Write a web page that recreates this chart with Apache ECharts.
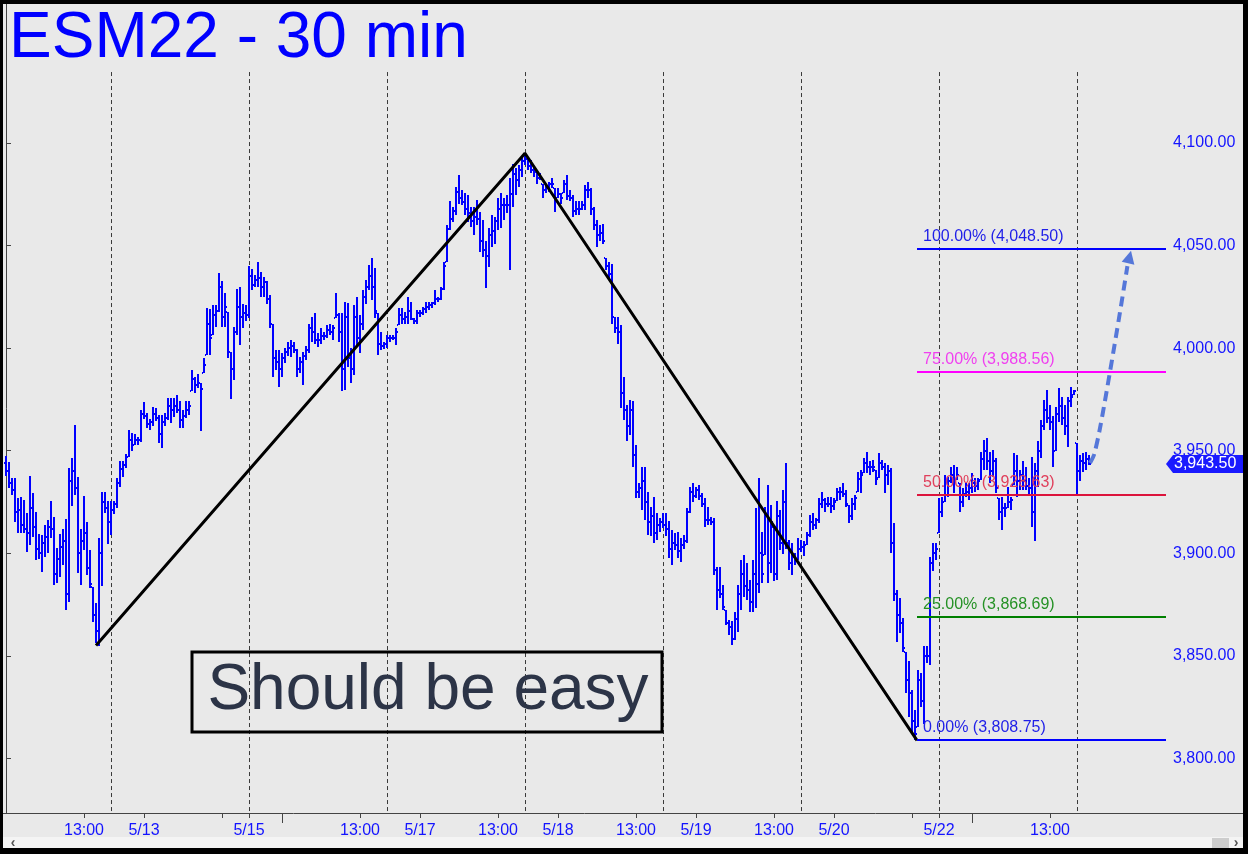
<!DOCTYPE html>
<html>
<head>
<meta charset="utf-8">
<script src="https://cdn.jsdelivr.net/npm/echarts@6/dist/echarts.min.js"></script>
<style>
html,body{margin:0;padding:0;background:#e9e9e9;}
#chart{width:1248px;height:854px;}
</style>
</head>
<body>
<div id="chart"></div>
<script>
// ---------- DATA ----------
const highs = [
3947.25,3944.25,3936.5,3936.5,3927,3927.5,3926,3919.5,3937.5,3929.5,
3920,3909.5,3909,3913.75,3916.25,3925.5,3917.75,3902.5,3909.5,3911.75,
3916.75,3941.5,3946.5,3962.5,3937.25,3911.75,3928,3915.25,3901.5,3883.5,
3875.75,3907.5,3930,3930,3925.5,3925.5,3925.25,3936.5,3944.75,3944.75,
3948.5,3960,3958.5,3958,3956.75,3969.75,3973.75,3968.25,3965.5,3971.5,
3970.75,3967.5,3967.5,3968.5,3975.5,3975.5,3975.5,3977.25,3974,3969.75,
3974,3974,3989.25,3986,3987.5,3983,3995,4019.5,4019,4021,
4021,4036.5,4032.5,4026.75,4017.75,3998.25,4010.5,4028.75,4030,4021.75,
4021,4040,4038.5,4035.5,4042,4037.25,4034.75,4032.5,4026,4011.75,
3999,3999,3997.5,4000,4003,4004,4003,3999.5,3995.75,3998.25,
4001,4012,4015.25,4017,4007.25,4009.75,4008,4011.25,4012,4011.25,
4026.75,4017,4017,4022.5,4022,4000,4021,4025,4016,4028.25,
4033.25,4040.5,4043.75,4039,4017,4008,4003,4006.5,4006.5,4006.5,
4009.75,4019.5,4019.5,4017.75,4025,4022.5,4014.5,4018.5,4018.5,4020.25,
4022.5,4022.5,4022.5,4028.25,4025,4030,4042,4060,4071.5,4069,
4078.75,4084.5,4077,4075.5,4074.5,4069,4069,4072.25,4066.5,4062.5,
4052,4058.5,4065,4064,4073,4075.5,4073,4074.5,4082.75,4090,
4087.75,4089.25,4093.25,4095,4092.5,4091.75,4088.5,4086,4085.25,4080.25,
4079.5,4081,4082.75,4078,4078,4075.5,4082,4084.5,4077,4074.5,
4071.5,4071.5,4071.5,4079.5,4081,4078,4069,4062.5,4060,4060.75,
4043.75,4042,4041.25,4015.25,4015.25,4011.25,3986,3972.25,3974.75,3974,
3952.75,3934,3942.25,3942.25,3930,3922.75,3927.5,3919.5,3917,3919.5,
3919.5,3915.5,3911.5,3909.75,3910.5,3907.25,3908.75,3922,3932.5,3934,
3932.5,3933.25,3929.25,3926.75,3922.75,3917.75,3917,3893.5,3893.5,3884.5,
3872.25,3867.5,3866.75,3871.5,3884.5,3896.75,3899.25,3895.25,3887,3896.75,
3922,3936.5,3910.5,3922.75,3933.25,3923.5,3913,3925.25,3921,3930.75,
3944,3906.5,3905,3900,3907.25,3906.5,3905.75,3910.5,3918.5,3919.5,
3917,3926.75,3930,3926.75,3927.5,3927.5,3926.75,3931.75,3932.5,3934,
3930.75,3923.5,3926.75,3928.5,3939.75,3940.5,3946.25,3949.5,3944.75,3945.5,
3940.5,3948.75,3945.5,3944,3943,3941.5,3914.75,3882,3878,3868.25,
3852,3847.25,3833.25,3823.5,3843,3841.5,3855,3855,3898.25,3905,
3905,3926.75,3927.5,3938,3937.25,3942.25,3943,3942.25,3934,3931.75,
3934,3934,3939,3936.5,3936.5,3949.5,3955.25,3956,3949.5,3950.25,
3946.25,3926.75,3927.5,3924.25,3932.5,3927.5,3948.75,3948,3940.5,3944.75,
3942.25,3936.5,3947,3944,3954.75,3965,3974.75,3979.5,3972.25,3966.75,
3971.5,3980.5,3976.25,3972.25,3976.25,3981.25,3979.5,3953.75,3948,3948.75,
3949.5,3948
];
const lows = [
3937.5,3932,3928.5,3915,3910,3910,3910,3900.5,3904,3908,
3896.75,3897.25,3891,3898.25,3900,3907.5,3884.5,3885.5,3888.5,3894.25,
3872.25,3876.25,3923,3928.5,3890.5,3884.5,3901.5,3889.5,3883,3866.5,
3856.25,3854.75,3884,3919.5,3904.5,3909,3919.25,3922,3932.25,3937,
3941.5,3946.75,3950,3952.75,3952.75,3954.25,3965.25,3961.25,3960,3962,
3964.25,3953.75,3951.25,3962,3965,3963.5,3966.5,3968.5,3961,3961,
3966,3967.5,3979,3978,3980.5,3959.5,3987.75,3996.5,3996.5,4006.5,
4010.5,4017.75,4010.5,4010.5,3995,3975,3984.5,4006.5,4001.5,4009.75,
4013,4014.5,4028.25,4030,4030,4025,4025,4021.75,4009.75,3986,
3989.25,3981.25,3986,3992.5,3996.25,3995.75,3997.5,3986,3987.75,3982,
3994.25,3997.5,4003,4002.25,4000.75,4002.25,4004,4004.75,4006.5,4004,
4014.5,4003,3979.25,3979.5,3991,3983,3987,4000.75,3997.5,4008.75,
4021.75,4028.25,4023.5,4014.5,3996.5,3999,3999.5,4000,4003,4004,
4001.5,4011.25,4012,4012,4012,4013.75,4012,4012,4015.25,4016,
4017,4018.5,4019.5,4021,4022.5,4023.5,4028.5,4042,4057.5,4061.5,
4065,4070.5,4069.75,4065,4061.5,4059.25,4055,4060,4047,4044.5,
4029.25,4039.75,4049.5,4051,4057.5,4058.5,4062.5,4065.75,4038,4069,
4074.5,4078.75,4083.5,4089.25,4086.75,4085.25,4083.5,4080.25,4082,4073,
4075.5,4076.25,4078,4066.5,4073,4070.5,4075.5,4072.25,4071.5,4064,
4065,4065,4067.25,4067.25,4073,4065,4057.5,4049.5,4052,4051,
4038,4033.25,4012,4007.25,4002.25,3970.75,3965,3954.5,3957.75,3942.25,
3926.75,3926.75,3921,3916.25,3909,3908.25,3904.75,3906.5,3910.5,3912.25,
3908.25,3897.5,3894.5,3901.5,3897.5,3895.75,3902.25,3905,3919.5,3925,
3926.75,3926,3922.75,3913,3913.75,3913.75,3889.25,3872.25,3878,3872.25,
3865,3860.25,3855.25,3857.75,3861.75,3872.25,3878.75,3877.25,3871.5,3871.5,
3873.25,3880.5,3885.5,3899.25,3885.5,3890.25,3886.25,3887,3901.5,3899.75,
3902.25,3891.75,3889.5,3894.25,3896.75,3900.75,3898.5,3904,3908,3911.25,
3912,3914.5,3922,3920.25,3922.75,3919.5,3921,3925.25,3926,3927.5,
3922.75,3914.5,3916.25,3921,3930,3929.25,3939,3939,3938.25,3939.75,
3933.25,3936.5,3940.5,3929.25,3933.25,3900,3876.5,3856.75,3861,3852,
3831.75,3820.25,3812.25,3808.75,3815.5,3825.25,3816.75,3846.25,3845.5,3891.25,
3896.75,3909.75,3917.75,3925,3927.5,3934,3929.25,3935.75,3920.25,3922.75,
3927.5,3926,3929.25,3930,3930.75,3935.75,3940.5,3940.5,3934,3937.25,
3929.25,3916.25,3911.25,3917.75,3922,3921,3933.25,3927.5,3930.75,3930.75,
3930.75,3928.5,3912.75,3905.75,3932.5,3946.25,3960.25,3963.25,3960.25,3942.25,
3949.75,3964,3962.5,3957.75,3952,3971.5,3977.25,3928.5,3935,3939.75,
3940.5,3943
];
const closes = [
3940,3934,3931,3920,3921,3914,3912,3910,3922,3913,
3902,3900,3905,3908,3913,3912,3890,3897,3903,3906,
3880,3935,3940,3932,3900,3906,3910,3893,3885,3870,
3862,3900,3925,3922,3915,3921,3924,3934,3941,3943,
3947,3955,3953,3955,3955,3968,3967,3963,3964,3968,
3966,3958,3964,3966,3972,3970,3972,3970,3965,3967,
3970,3972,3985,3982,3983,3980,3992,4012,4005,4016,
4018,4030,4015,4020,3998,3990,4008,4020,4015,4017,
4016,4035,4031,4033,4034,4030,4032,4024,4012,3995,
3993,3990,3995,3998,4000,4001,3999,3990,3993,3996,
3999,4010,4008,4004,4004,4006,4006,4009,4008,4010,
4016,4008,3990,4015,3995,3990,4015,4005,4012,4025,
4030,4035,4030,4018,4002,4001,4002,4005,4005,4005,
4008,4016,4014,4015,4018,4014,4013,4017,4017,4019,
4020,4021,4022,4024,4024,4029,4040,4058,4063,4067,
4076,4073,4071,4068,4066,4062,4064,4063,4052,4048,
4045,4055,4057,4062,4068,4070,4070,4070,4075,4085,
4082,4087,4091,4092,4089,4087,4086,4083,4083,4077,
4078,4080,4080,4072,4075,4073,4080,4074,4073,4067,
4068,4068,4070,4077,4077,4068,4060,4055,4056,4052,
4040,4036,4015,4010,4008,3978,3970,3962,3970,3948,
3930,3932,3935,3925,3915,3918,3910,3914,3915,3914,
3912,3902,3905,3904,3901,3904,3906,3920,3930,3928,
3931,3928,3924,3916,3916,3915,3892,3882,3880,3874,
3866,3864,3858,3868,3880,3890,3884,3882,3876,3890,
3885,3900,3890,3918,3895,3915,3890,3918,3905,3925,
3905,3895,3898,3897,3902,3903,3904,3909,3915,3914,
3916,3924,3926,3924,3924,3923,3925,3930,3930,3929,
3924,3918,3924,3927,3936,3938,3944,3942,3942,3942,
3936,3944,3942,3938,3940,3905,3880,3870,3866,3854,
3838,3832,3818,3812,3838,3828,3850,3850,3895,3900,
3902,3920,3925,3935,3935,3938,3935,3938,3925,3929,
3930,3932,3934,3933,3935,3946,3950,3945,3940,3945,
3932,3920,3922,3922,3925,3926,3940,3935,3938,3935,
3933,3932,3920,3940,3950,3962,3970,3966,3964,3950,
3968,3972,3966,3962,3974,3976,3979,3940,3945,3944,
3946,3943.5
];
const firstOpen = 3944;
const lastPrice = 3943.50;

// session (day) separators, bar indices
const sessionStarts = [35, 81, 127, 173, 219, 265, 311, 357];
const separatorTopValue = 4134.6;

// time axis labels (bar index -> text)
const xLabelIdx  = [26, 46, 81, 118, 138, 164, 184, 210, 230, 256, 276, 311, 348];
const xLabelText = ['13:00','5/13','5/15','13:00','5/17','13:00','5/18','13:00','5/19','13:00','5/20','5/22','13:00'];
const xExtraTickIdx = [72, 302];
const xLongTickIdx = [92, 322];

// price axis ticks
const yTickValues = [3800, 3850, 3900, 3950, 4000, 4050, 4100];

// swing lines (bar index, price)
const swingPoints = [[30, 3855], [173, 4095], [303.67, 3808.75]];

// fibonacci-style targets
const fibStartIdx = 303.67;
const fibPct    = ['100.00%', '75.00%', '50.00%', '25.00%', '0.00%'];
const fibValues = [4048.50, 3988.56, 3928.63, 3868.69, 3808.75];

// projected path (bar index, price)
const projPath = [[361.33, 3944], [362.67, 3948], [364.67, 3961], [368, 3988.5], [371.33, 4017.5], [373.8, 4040]];
const projTip = [375, 4047.5];

const titleText = 'ESM22 - 30 min';
const noteText = 'Should be easy';

// ---------- STYLE / LAYOUT ----------
const FONT = "'Liberation Sans', Arial, sans-serif";
const BLUE = '#0000ff';
const fibLineColors = ['#0000ff', '#ff00ff', '#dc143c', '#008000', '#0000ff'];
const fibTextColors = ['#1f1fe8', '#f040f0', '#e0405c', '#259125', '#1f1fe8'];
const xMin = -1, xMax = 386.667, yMin = 3773.35, yMax = 4167.77;

function fmtPrice(v) {
  const s = v.toFixed(2);
  const [ip, dp] = s.split('.');
  return ip.replace(/\B(?=(\d{3})+(?!\d))/g, ',') + '.' + dp;
}

const opens = closes.map((c, i) => i === 0 ? firstOpen : closes[i - 1]);
const barData = highs.map((h, i) => [i, opens[i], closes[i], lows[i], h]);
const labelMap = {};
xLabelIdx.forEach((ix, k) => { labelMap[ix] = xLabelText[k]; });

const chart = echarts.init(document.getElementById('chart'), null, {renderer: 'canvas'});

function clamp(v, a, b) { return Math.max(a, Math.min(b, v)); }

const option = {
  animation: false,
  backgroundColor: '#e9e9e9',
  grid: {left: 3, right: 82, top: 4, bottom: 41, containLabel: false},
  xAxis: [{
    type: 'value', min: xMin, max: xMax,
    axisLine: {show: true, lineStyle: {color: '#444', width: 1}},
    axisTick: {show: true, customValues: xLabelIdx.concat(xExtraTickIdx), length: 5, lineStyle: {color: '#444'}},
    axisLabel: {show: true, customValues: xLabelIdx, margin: 10, color: '#1414ff', fontSize: 16, fontFamily: FONT,
      formatter: v => labelMap[Math.round(v)] || ''},
    splitLine: {show: false}
  }, {
    type: 'value', min: xMin, max: xMax, position: 'bottom',
    axisLine: {show: false},
    axisTick: {show: true, customValues: xLongTickIdx, length: 10, lineStyle: {color: '#444'}},
    axisLabel: {show: false},
    splitLine: {show: false}
  }],
  yAxis: {
    type: 'value', position: 'right', min: yMin, max: yMax,
    axisLine: {show: true, lineStyle: {color: '#444', width: 1}},
    axisTick: {show: true, customValues: yTickValues, length: 5, lineStyle: {color: '#444'}},
    axisLabel: {show: true, customValues: yTickValues, margin: 7, color: '#1414ff', fontSize: 16, fontFamily: FONT,
      formatter: v => fmtPrice(v)},
    splitLine: {show: false}
  },
  series: [
    {
      type: 'custom', name: 'separators', z: 1, silent: true,
      data: sessionStarts.map(i => [i]),
      renderItem: (params, api) => {
        const t = api.coord([api.value(0), separatorTopValue]);
        const b = api.coord([api.value(0), yMin]);
        const x = Math.round(t[0]) + 0.5;
        return {type: 'line', shape: {x1: x, y1: t[1], x2: x, y2: b[1]},
          style: {stroke: '#3a3a3a', lineWidth: 1, lineDash: [4, 3]}};
      }
    },
    {
      type: 'custom', name: 'ESM22', z: 2, silent: true, clip: true,
      data: barData,
      encode: {x: 0, y: [1, 2, 3, 4]},
      renderItem: (params, api) => {
        const i = api.value(0), o = api.value(1), c = api.value(2), l = api.value(3), h = api.value(4);
        const pH = api.coord([i, h]);
        const pL = api.coord([i, l]);
        const x = Math.round(pH[0]);
        const yo = Math.round(api.coord([i, clamp(o, l, h)])[1]);
        const yc = Math.round(api.coord([i, clamp(c, l, h)])[1]);
        const yt = Math.round(pH[1]);
        const yb = Math.round(pL[1]);
        return {type: 'group', children: [
          {type: 'rect', shape: {x: x - 1, y: yt, width: 2, height: Math.max(2, yb - yt)}, style: {fill: BLUE}},
          {type: 'rect', shape: {x: x - 2, y: yo - 1, width: 1, height: 2}, style: {fill: BLUE}},
          {type: 'rect', shape: {x: x + 1, y: yc - 1, width: 1, height: 2}, style: {fill: BLUE}}
        ]};
      }
    },
    {
      type: 'line', name: 'swing', z: 3, silent: true,
      data: swingPoints, symbol: 'none',
      lineStyle: {color: '#000', width: 3}
    },
    {
      type: 'custom', name: 'fib', z: 4, silent: true,
      data: fibValues.map((v, k) => [v, k]),
      renderItem: (params, api) => {
        const v = api.value(0), k = api.value(1);
        const p0 = api.coord([fibStartIdx, v]);
        const p1 = api.coord([xMax, v]);
        const y = Math.round(p0[1]);
        return {type: 'group', children: [
          {type: 'line', shape: {x1: p0[0], y1: y, x2: p1[0], y2: y},
            style: {stroke: fibLineColors[k], lineWidth: 2}},
          {type: 'text', x: p0[0] + 6, y: y - 12,
            style: {text: fibPct[k] + ' (' + fmtPrice(v) + ')', fill: fibTextColors[k],
              font: '16px ' + FONT, verticalAlign: 'middle', align: 'left'}}
        ]};
      }
    },
    {
      type: 'line', name: 'projection', z: 5, silent: true, smooth: 0.3,
      data: projPath, symbol: 'none',
      lineStyle: {color: '#5577d9', width: 4, type: [10, 6]}
    },
    {
      type: 'custom', name: 'arrowhead', z: 5, silent: true,
      data: [projTip],
      renderItem: (params, api) => {
        const tip = api.coord([api.value(0), api.value(1)]);
        const prev = api.coord(projPath[projPath.length - 1]);
        let dx = tip[0] - prev[0], dy = tip[1] - prev[1];
        const len = Math.hypot(dx, dy); dx /= len; dy /= len;
        const L = 13, W = 6.5;
        const bx = tip[0] - dx * L, by = tip[1] - dy * L;
        return {type: 'polygon', shape: {points: [
          [tip[0], tip[1]], [bx - dy * W, by + dx * W], [bx + dy * W, by - dx * W]]},
          style: {fill: '#5577d9'}};
      }
    }
  ]
};
chart.setOption(option);

// ---------- annotations / frame ----------
const tagY = Math.round(chart.convertToPixel({yAxisIndex: 0}, lastPrice));
const axisX = 1166;
chart.setOption({
  graphic: [
    {type: 'text', z: 10, x: 9, y: 39,
      style: {text: titleText, font: '64px ' + FONT, fill: BLUE, verticalAlign: 'middle', align: 'left'}},
    {type: 'rect', z: 10, shape: {x: 192, y: 652, width: 470, height: 80},
      style: {fill: 'none', stroke: '#000', lineWidth: 3}},
    {type: 'text', z: 10, x: 428, y: 691,
      style: {text: noteText, font: '64px ' + FONT, fill: '#2c3447', verticalAlign: 'middle', align: 'center'}},
    {type: 'polygon', z: 20, shape: {points: [[axisX, tagY], [axisX + 7, tagY - 9], [1243, tagY - 9], [1243, tagY + 9], [axisX + 7, tagY + 9]]},
      style: {fill: '#1a1aff'}},
    {type: 'text', z: 21, x: 1174, y: tagY,
      style: {text: fmtPrice(lastPrice), font: '16px ' + FONT, fill: '#fff', verticalAlign: 'middle', align: 'left'}},
    {type: 'line', z: 10, shape: {x1: axisX, y1: 813.5, x2: 1243, y2: 813.5}, style: {stroke: '#444', lineWidth: 1}},
    {type: 'rect', z: 10, shape: {x: 3, y: 837, width: 1240, height: 11}, style: {fill: '#f4f4f4'}},
    {type: 'rect', z: 11, shape: {x: 1212, y: 838, width: 17, height: 10}, style: {fill: '#cdcdcd'}},
    {type: 'text', z: 11, x: 13, y: 843, style: {text: '‹', font: 'bold 14px ' + FONT, fill: '#555', verticalAlign: 'middle', align: 'center'}},
    {type: 'text', z: 11, x: 1236, y: 843, style: {text: '›', font: 'bold 14px ' + FONT, fill: '#555', verticalAlign: 'middle', align: 'center'}},
    {type: 'rect', z: 30, shape: {x: 0, y: 0, width: 1248, height: 4}, style: {fill: '#000'}},
    {type: 'rect', z: 30, shape: {x: 0, y: 0, width: 3, height: 854}, style: {fill: '#000'}},
    {type: 'rect', z: 30, shape: {x: 1243, y: 0, width: 5, height: 854}, style: {fill: '#000'}},
    {type: 'rect', z: 30, shape: {x: 0, y: 848, width: 1248, height: 6}, style: {fill: '#000'}}
  ]
});
</script>
</body>
</html>
